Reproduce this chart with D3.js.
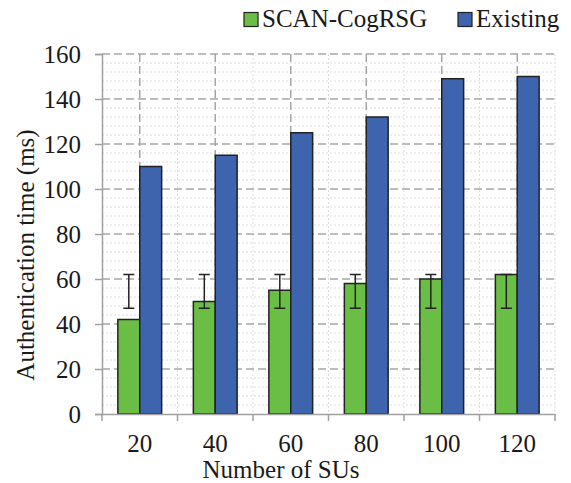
<!DOCTYPE html>
<html>
<head>
<meta charset="utf-8">
<script src="https://cdn.jsdelivr.net/npm/d3@7"></script>
<style>
  body { margin: 0; background: #fff; }
</style>
</head>
<body>
<div id="chart"></div>
<script>
// chart data
const categories = ["20", "40", "60", "80", "100", "120"];
const seriesNames = ["SCAN-CogRSG", "Existing"];
const scanValues = [42, 50, 55, 58, 60, 62];
const existingValues = [110, 115, 125, 132, 149, 150];
const errLow = [47, 47, 47, 47, 47, 47];
const errHigh = [62, 62, 62, 62, 62, 62];
const yTicks = [0, 20, 40, 60, 80, 100, 120, 140, 160];

const colors = { "SCAN-CogRSG": "#6abd45", "Existing": "#3e64ad" };
const FONT = '"Liberation Serif"';

const width = 571, height = 483;
const margin = { top: 54, right: 16, bottom: 69, left: 102 };

const svg = d3.select("#chart")
    .append("svg")
    .attr("width", width)
    .attr("height", height);

// scales
const x = d3.scaleBand()
    .domain(categories)
    .range([margin.left, width - margin.right])
    .padding(0);

const y = d3.scaleLinear()
    .domain([0, 160])
    .range([height - margin.bottom, margin.top]);

const barW = x.bandwidth() * 0.29;
const xSub = d3.scaleBand()
    .domain(seriesNames)
    .range([x.bandwidth() / 2 - barW, x.bandwidth() / 2 + barW]);

// minor grid (dotted)
const grid = svg.append("g");
grid.selectAll(".minor-h")
    .data(d3.range(4, 160, 4).filter(v => v % 20 !== 0))
    .enter().append("line")
    .attr("x1", margin.left).attr("x2", width - margin.right)
    .attr("y1", d => y(d)).attr("y2", d => y(d))
    .attr("stroke", "#dcdcdc").attr("stroke-width", 1)
    .attr("stroke-dasharray", "2,2");

grid.selectAll(".minor-v")
    .data(categories.slice(1).concat(["end"]))
    .enter().append("line")
    .attr("x1", d => d === "end" ? x.range()[1] : x(d))
    .attr("x2", d => d === "end" ? x.range()[1] : x(d))
    .attr("y1", y(160)).attr("y2", y(0))
    .attr("stroke", "#dcdcdc").attr("stroke-width", 1)
    .attr("stroke-dasharray", "2,2");

// major grid (dashed)
grid.selectAll(".major-h")
    .data(yTicks.slice(1))
    .enter().append("line")
    .attr("x1", margin.left).attr("x2", width - margin.right)
    .attr("y1", d => y(d)).attr("y2", d => y(d))
    .attr("stroke", "#a6a6a6").attr("stroke-width", 1.5)
    .attr("stroke-dasharray", "8,4");

grid.selectAll(".major-v")
    .data(categories)
    .enter().append("line")
    .attr("x1", d => x(d) + x.bandwidth() / 2)
    .attr("x2", d => x(d) + x.bandwidth() / 2)
    .attr("y1", y(160)).attr("y2", y(0))
    .attr("stroke", "#a6a6a6").attr("stroke-width", 1.5)
    .attr("stroke-dasharray", "8,4");

// bars
const rows = categories.map((c, i) => ({
    cat: c,
    vals: [
        { name: "SCAN-CogRSG", value: scanValues[i] },
        { name: "Existing", value: existingValues[i] }
    ],
    lo: errLow[i],
    hi: errHigh[i]
}));

const groups = svg.selectAll(".group")
    .data(rows)
    .enter().append("g")
    .attr("transform", d => `translate(${x(d.cat)},0)`);

groups.selectAll("rect")
    .data(d => d.vals)
    .enter().append("rect")
    .attr("x", d => xSub(d.name))
    .attr("width", xSub.bandwidth())
    .attr("y", d => y(d.value))
    .attr("height", d => y(0) - y(d.value))
    .attr("fill", d => colors[d.name])
    .attr("stroke", "#222")
    .attr("stroke-width", 1.5);

// error bars on SCAN-CogRSG
const errG = groups.append("g")
    .attr("stroke", "#222")
    .attr("stroke-width", 1.5);
const ex = xSub("SCAN-CogRSG") + xSub.bandwidth() / 2;
errG.append("line")
    .attr("x1", ex).attr("x2", ex)
    .attr("y1", d => y(d.lo)).attr("y2", d => y(d.hi));
errG.append("line")
    .attr("x1", ex - 5.5).attr("x2", ex + 5.5)
    .attr("y1", d => y(d.lo)).attr("y2", d => y(d.lo));
errG.append("line")
    .attr("x1", ex - 5.5).attr("x2", ex + 5.5)
    .attr("y1", d => y(d.hi)).attr("y2", d => y(d.hi));

// axes
const yAxis = svg.append("g")
    .attr("transform", `translate(${margin.left},0)`)
    .call(d3.axisLeft(y).tickValues(yTicks).tickSize(7).tickPadding(14));
yAxis.select(".domain").attr("stroke", "#a0a0a0").attr("stroke-width", 1.5);
yAxis.selectAll(".tick line").attr("stroke", "#a0a0a0").attr("stroke-width", 1.5);
yAxis.selectAll(".tick text")
    .style("font-family", FONT)
    .style("font-size", "25px")
    .attr("fill", "#1a1a1a");

const xAxis = svg.append("g")
    .attr("transform", `translate(0,${y(0)})`)
    .call(d3.axisBottom(x).tickSize(0).tickPadding(20));
xAxis.select(".domain").attr("stroke", "#a0a0a0").attr("stroke-width", 1.5);
xAxis.selectAll(".tick text")
    .style("font-family", FONT)
    .style("font-size", "25px")
    .attr("fill", "#1a1a1a");

// x tick marks at band boundaries
svg.append("g")
    .selectAll("line")
    .data(categories.concat(["end"]))
    .enter().append("line")
    .attr("x1", d => d === "end" ? x.range()[1] : x(d))
    .attr("x2", d => d === "end" ? x.range()[1] : x(d))
    .attr("y1", y(0)).attr("y2", y(0) + 7)
    .attr("stroke", "#a0a0a0").attr("stroke-width", 1.5);

// axis titles
svg.append("text")
    .attr("x", 281).attr("y", 478)
    .attr("text-anchor", "middle")
    .style("font-family", FONT)
    .style("font-size", "25px")
    .attr("fill", "#1a1a1a")
    .text("Number of SUs");

svg.append("text")
    .attr("transform", "translate(34,255) rotate(-90)")
    .attr("text-anchor", "middle")
    .style("font-family", FONT)
    .style("font-size", "25px")
    .attr("fill", "#1a1a1a")
    .text("Authentication time (ms)");

// legend
const legend = svg.append("g");
const legendItems = [
    { name: "SCAN-CogRSG", x: 244 },
    { name: "Existing", x: 458 }
];
legend.selectAll("rect")
    .data(legendItems)
    .enter().append("rect")
    .attr("x", d => d.x).attr("y", 12.5)
    .attr("width", 14).attr("height", 14)
    .attr("fill", d => colors[d.name])
    .attr("stroke", "#222").attr("stroke-width", 1.2);
legend.selectAll("text")
    .data(legendItems)
    .enter().append("text")
    .attr("x", d => d.x + 18).attr("y", 27)
    .style("font-family", FONT)
    .style("font-size", "25px")
    .attr("fill", "#1a1a1a")
    .text(d => d.name);
</script>
</body>
</html>
